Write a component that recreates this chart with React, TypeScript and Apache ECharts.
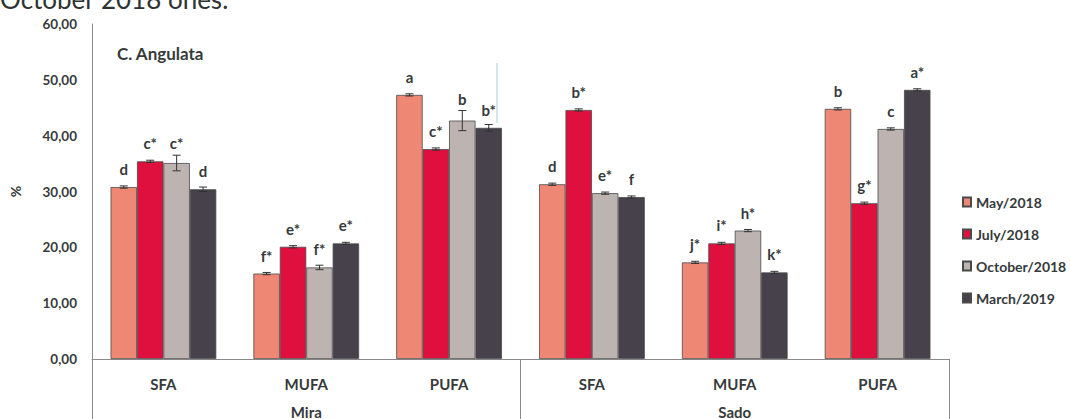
import React, { useEffect, useRef } from "react";
import * as echarts from "echarts";

const categories = ["SFA", "MUFA", "PUFA", "SFA", "MUFA", "PUFA"];
const sites = ["Mira", "Sado"];
const seriesNames = ["May/2018", "July/2018", "October/2018", "March/2019"];
const colors = ["#EF8775", "#E0103E", "#BDB3B1", "#46414A"];

const may2018 = [30.8, 15.3, 47.3, 31.3, 17.3, 44.8];
const jul2018 = [35.4, 20.1, 37.6, 44.6, 20.7, 27.9];
const oct2018 = [35.1, 16.4, 42.7, 29.7, 23.0, 41.2];
const mar2019 = [30.4, 20.7, 41.4, 29.0, 15.5, 48.2];
const valuesBySeries = [may2018, jul2018, oct2018, mar2019];

const errMay = [0.2, 0.2, 0.2, 0.2, 0.2, 0.2];
const errJul = [0.2, 0.2, 0.2, 0.2, 0.2, 0.2];
const errOct = [1.4, 0.4, 1.8, 0.2, 0.2, 0.2];
const errMar = [0.4, 0.2, 0.6, 0.2, 0.2, 0.2];
const errBySeries = [errMay, errJul, errOct, errMar];

const lettersMay = ["d", "f*", "a", "d", "j*", "b"];
const lettersJul = ["c*", "e*", "c*", "b*", "i*", "g*"];
const lettersOct = ["c*", "f*", "b", "e*", "h*", "c"];
const lettersMar = ["d", "e*", "b*", "f", "k*", "a*"];
const lettersBySeries = [lettersMay, lettersJul, lettersOct, lettersMar];

const yTicks = [0, 10, 20, 30, 40, 50, 60];

const FONT = "Lato";
const TEXT = "#363a3b";
const GAP = 0.26;

export default function App() {
  const ref = useRef<HTMLDivElement>(null);
  useEffect(() => {
    if (!ref.current) return;
    const chart = echarts.init(ref.current, null, { renderer: "svg" });
    const barSeries = seriesNames.map((name, k) => ({
      name,
      type: "bar",
      xAxisIndex: 0,
      barGap: "0%",
      barCategoryGap: GAP * 100 + "%",
      data: valuesBySeries[k],
      itemStyle: { color: colors[k], borderColor: "#4a4a4a", borderWidth: 0.8 },
      z: 2,
    }));
    const errSeries = seriesNames.map((name, k) => ({
      name: name + "-err",
      type: "custom",
      xAxisIndex: 0,
      z: 5,
      silent: true,
      data: valuesBySeries[k].map((v, i) => [i, v, errBySeries[k][i]]),
      renderItem: (params: any, api: any) => {
        const ci = api.value(0);
        const v = api.value(1);
        const e = api.value(2);
        const base = api.coord([ci, v]);
        const band = api.size([1, 0])[0];
        const gw = band * (1 - GAP);
        const bw = gw / 4;
        const x = base[0] - gw / 2 + bw * (k + 0.5);
        const top = api.coord([ci, v + e])[1];
        const bot = api.coord([ci, v - e])[1];
        const cap = 4;
        const ls = { stroke: "#333", lineWidth: 1 };
        const label = lettersBySeries[k][params.dataIndex];
        const ty = Math.min(base[1] - 18, top - 12);
        return {
          type: "group",
          children: [
            { type: "line", shape: { x1: x, y1: top, x2: x, y2: bot }, style: ls },
            { type: "line", shape: { x1: x - cap, y1: top, x2: x + cap, y2: top }, style: ls },
            { type: "line", shape: { x1: x - cap, y1: bot, x2: x + cap, y2: bot }, style: ls },
            {
              type: "text",
              x,
              y: ty,
              style: {
                text: label,
                fill: TEXT,
                font: `bold 15px ${FONT}`,
                align: "center",
                verticalAlign: "middle",
              },
            },
          ],
        };
      },
    }));

    chart.setOption({
      animation: false,
      textStyle: { fontFamily: FONT },
      title: {
        text: "C. Angulata",
        left: 112,
        top: 40,
        textStyle: { fontFamily: FONT, fontSize: 17, fontWeight: "bold", color: TEXT },
      },
      legend: {
        data: seriesNames,
        orient: "vertical",
        left: 957,
        top: 190,
        itemGap: 18,
        itemWidth: 8,
        itemHeight: 9,
        itemTextGap: 5,
        icon: "rect",
        textStyle: { fontFamily: FONT, fontSize: 14, fontWeight: "bold", color: TEXT },
      },
      grid: { left: 88, right: 121, top: 24, bottom: 60 },
      xAxis: [
        {
          type: "category",
          data: categories,
          position: "bottom",
          axisLine: { show: true, lineStyle: { color: "#8a8a8a", width: 1 } },
          axisTick: { show: false },
          axisLabel: {
            margin: 17,
            fontFamily: FONT,
            fontSize: 15,
            fontWeight: "bold",
            color: TEXT,
          },
        },
        {
          type: "category",
          data: sites,
          position: "bottom",
          axisLine: { show: false },
          axisTick: { show: true, length: 70, lineStyle: { color: "#8a8a8a", width: 1 } },
          axisLabel: {
            margin: 45,
            fontFamily: FONT,
            fontSize: 15,
            fontWeight: "bold",
            color: TEXT,
          },
        },
      ],
      yAxis: {
        type: "value",
        min: yTicks[0],
        max: yTicks[yTicks.length - 1],
        interval: 10,
        name: "%",
        nameLocation: "middle",
        nameGap: 70,
        nameRotate: 90,
        nameTextStyle: { fontFamily: FONT, fontSize: 14, fontWeight: "bold", color: TEXT },
        axisLine: { show: true, lineStyle: { color: "#8a8a8a", width: 1 } },
        axisTick: { show: false },
        splitLine: { show: false },
        axisLabel: {
          margin: 15,
          fontFamily: FONT,
          fontSize: 13.5,
          fontWeight: "bold",
          color: TEXT,
          formatter: (v: number) => v.toFixed(2).replace(".", ","),
        },
      },
      graphic: [
        {
          type: "text",
          left: 0,
          top: -14,
          style: { text: "October 2018 ones.", font: `26px ${FONT}`, fill: "#2f3333" },
        },
        {
          type: "line",
          shape: { x1: 497, y1: 63, x2: 497, y2: 123 },
          style: { stroke: "#a9cbe6", lineWidth: 1 },
        },
      ],
      series: [...barSeries, ...errSeries],
    });
    return () => chart.dispose();
  }, []);
  return (
    <div
      ref={ref}
      style={{ position: "fixed", left: 0, top: 0, width: 1070, height: 419, background: "#fff" }}
    />
  );
}
